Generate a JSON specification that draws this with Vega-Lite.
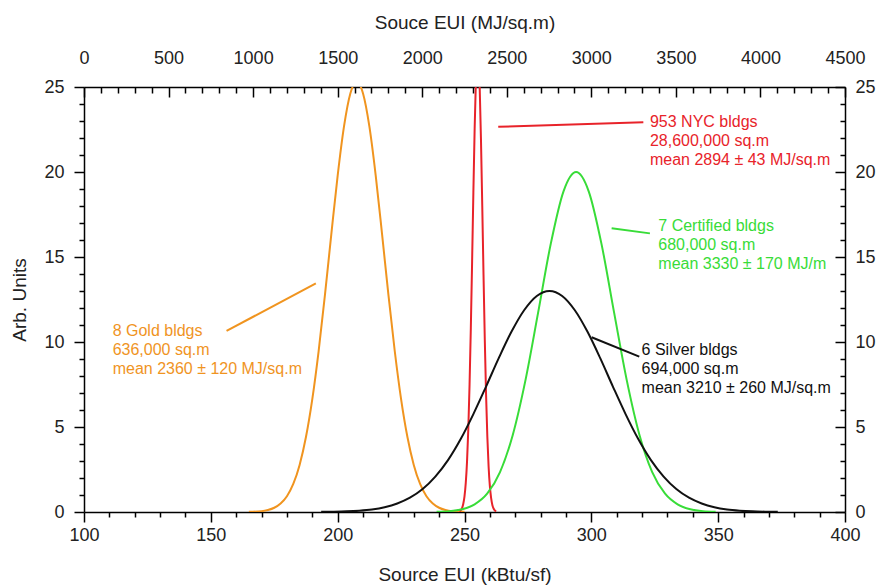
{
  "$schema": "https://vega.github.io/schema/vega-lite/v6.json",
  "width": 761,
  "height": 425,
  "autosize": {"type": "none"},
  "padding": {"left": 84, "top": 87, "right": 35, "bottom": 74},
  "background": "white",
  "config": {
    "view": {"stroke": null},
    "font": "Liberation Sans",
    "axis": {
      "grid": false,
      "domainColor": "#000",
      "domainWidth": 1.5,
      "tickColor": "#000",
      "tickWidth": 1.5,
      "labelColor": "#222",
      "titleColor": "#222",
      "labelFont": "Liberation Sans",
      "titleFont": "Liberation Sans",
      "labelFontSize": 18,
      "titleFontSize": 19,
      "titleFontWeight": "normal",
      "labelFlush": false,
      "labelOverlap": false,
      "labelBound": false
    }
  },
  "datasets": {
    "curves": [
      {"series": "Gold", "x": 165, "y": 0.01},
      {"series": "Gold", "x": 170, "y": 0.05},
      {"series": "Gold", "x": 172.5, "y": 0.12},
      {"series": "Gold", "x": 175, "y": 0.25},
      {"series": "Gold", "x": 177.5, "y": 0.5},
      {"series": "Gold", "x": 180, "y": 0.93},
      {"series": "Gold", "x": 182.5, "y": 1.65},
      {"series": "Gold", "x": 185, "y": 2.77},
      {"series": "Gold", "x": 187.5, "y": 4.41},
      {"series": "Gold", "x": 190, "y": 6.64},
      {"series": "Gold", "x": 192.5, "y": 9.47},
      {"series": "Gold", "x": 195, "y": 12.79},
      {"series": "Gold", "x": 197.5, "y": 16.35},
      {"series": "Gold", "x": 200, "y": 19.79},
      {"series": "Gold", "x": 202.5, "y": 22.68},
      {"series": "Gold", "x": 205, "y": 24.62},
      {"series": "Gold", "x": 207.5, "y": 25.3},
      {"series": "Gold", "x": 210, "y": 24.62},
      {"series": "Gold", "x": 212.5, "y": 22.68},
      {"series": "Gold", "x": 215, "y": 19.79},
      {"series": "Gold", "x": 217.5, "y": 16.35},
      {"series": "Gold", "x": 220, "y": 12.79},
      {"series": "Gold", "x": 222.5, "y": 9.47},
      {"series": "Gold", "x": 225, "y": 6.64},
      {"series": "Gold", "x": 227.5, "y": 4.41},
      {"series": "Gold", "x": 230, "y": 2.77},
      {"series": "Gold", "x": 232.5, "y": 1.65},
      {"series": "Gold", "x": 235, "y": 0.93},
      {"series": "Gold", "x": 237.5, "y": 0.5},
      {"series": "Gold", "x": 240, "y": 0.25},
      {"series": "Gold", "x": 242.5, "y": 0.12},
      {"series": "Gold", "x": 245, "y": 0.05},
      {"series": "Gold", "x": 250, "y": 0.01},
      {"series": "NYC", "x": 248, "y": 0.04},
      {"series": "NYC", "x": 248.5, "y": 0.1},
      {"series": "NYC", "x": 249, "y": 0.22},
      {"series": "NYC", "x": 249.5, "y": 0.47},
      {"series": "NYC", "x": 250, "y": 0.92},
      {"series": "NYC", "x": 250.5, "y": 1.71},
      {"series": "NYC", "x": 251, "y": 2.98},
      {"series": "NYC", "x": 251.5, "y": 4.88},
      {"series": "NYC", "x": 252, "y": 7.51},
      {"series": "NYC", "x": 252.5, "y": 10.85},
      {"series": "NYC", "x": 253, "y": 14.74},
      {"series": "NYC", "x": 253.5, "y": 18.81},
      {"series": "NYC", "x": 254, "y": 22.55},
      {"series": "NYC", "x": 254.5, "y": 25.4},
      {"series": "NYC", "x": 255, "y": 26.87},
      {"series": "NYC", "x": 255.5, "y": 26.7},
      {"series": "NYC", "x": 256, "y": 24.92},
      {"series": "NYC", "x": 256.5, "y": 21.86},
      {"series": "NYC", "x": 257, "y": 18.01},
      {"series": "NYC", "x": 257.5, "y": 13.94},
      {"series": "NYC", "x": 258, "y": 10.13},
      {"series": "NYC", "x": 258.5, "y": 6.92},
      {"series": "NYC", "x": 259, "y": 4.44},
      {"series": "NYC", "x": 259.5, "y": 2.68},
      {"series": "NYC", "x": 260, "y": 1.52},
      {"series": "NYC", "x": 260.5, "y": 0.81},
      {"series": "NYC", "x": 261, "y": 0.4},
      {"series": "NYC", "x": 261.5, "y": 0.19},
      {"series": "NYC", "x": 262, "y": 0.08},
      {"series": "NYC", "x": 262.5, "y": 0.03},
      {"series": "Certified", "x": 239, "y": 0.02},
      {"series": "Certified", "x": 244, "y": 0.05},
      {"series": "Certified", "x": 249, "y": 0.16},
      {"series": "Certified", "x": 254, "y": 0.45},
      {"series": "Certified", "x": 259, "y": 1.09},
      {"series": "Certified", "x": 264, "y": 2.35},
      {"series": "Certified", "x": 269, "y": 4.52},
      {"series": "Certified", "x": 274, "y": 7.73},
      {"series": "Certified", "x": 279, "y": 11.71},
      {"series": "Certified", "x": 284, "y": 15.77},
      {"series": "Certified", "x": 289, "y": 18.85},
      {"series": "Certified", "x": 294, "y": 20},
      {"series": "Certified", "x": 299, "y": 18.85},
      {"series": "Certified", "x": 304, "y": 15.77},
      {"series": "Certified", "x": 309, "y": 11.71},
      {"series": "Certified", "x": 314, "y": 7.73},
      {"series": "Certified", "x": 319, "y": 4.52},
      {"series": "Certified", "x": 324, "y": 2.35},
      {"series": "Certified", "x": 329, "y": 1.09},
      {"series": "Certified", "x": 334, "y": 0.45},
      {"series": "Certified", "x": 339, "y": 0.16},
      {"series": "Certified", "x": 344, "y": 0.05},
      {"series": "Certified", "x": 349, "y": 0.02},
      {"series": "Silver", "x": 193.5, "y": 0.01},
      {"series": "Silver", "x": 198.5, "y": 0.02},
      {"series": "Silver", "x": 203.5, "y": 0.04},
      {"series": "Silver", "x": 208.5, "y": 0.08},
      {"series": "Silver", "x": 213.5, "y": 0.15},
      {"series": "Silver", "x": 218.5, "y": 0.28},
      {"series": "Silver", "x": 223.5, "y": 0.5},
      {"series": "Silver", "x": 228.5, "y": 0.84},
      {"series": "Silver", "x": 233.5, "y": 1.35},
      {"series": "Silver", "x": 238.5, "y": 2.08},
      {"series": "Silver", "x": 243.5, "y": 3.05},
      {"series": "Silver", "x": 248.5, "y": 4.29},
      {"series": "Silver", "x": 253.5, "y": 5.76},
      {"series": "Silver", "x": 258.5, "y": 7.38},
      {"series": "Silver", "x": 263.5, "y": 9.05},
      {"series": "Silver", "x": 268.5, "y": 10.6},
      {"series": "Silver", "x": 273.5, "y": 11.87},
      {"series": "Silver", "x": 278.5, "y": 12.71},
      {"series": "Silver", "x": 283.5, "y": 13},
      {"series": "Silver", "x": 288.5, "y": 12.71},
      {"series": "Silver", "x": 293.5, "y": 11.87},
      {"series": "Silver", "x": 298.5, "y": 10.6},
      {"series": "Silver", "x": 303.5, "y": 9.05},
      {"series": "Silver", "x": 308.5, "y": 7.38},
      {"series": "Silver", "x": 313.5, "y": 5.76},
      {"series": "Silver", "x": 318.5, "y": 4.29},
      {"series": "Silver", "x": 323.5, "y": 3.05},
      {"series": "Silver", "x": 328.5, "y": 2.08},
      {"series": "Silver", "x": 333.5, "y": 1.35},
      {"series": "Silver", "x": 338.5, "y": 0.84},
      {"series": "Silver", "x": 343.5, "y": 0.5},
      {"series": "Silver", "x": 348.5, "y": 0.28},
      {"series": "Silver", "x": 353.5, "y": 0.15},
      {"series": "Silver", "x": 358.5, "y": 0.08},
      {"series": "Silver", "x": 363.5, "y": 0.04},
      {"series": "Silver", "x": 368.5, "y": 0.02},
      {"series": "Silver", "x": 373.5, "y": 0.01}
    ],
    "leaders": [
      {"series": "Gold", "x": 156.2, "y": 10.65, "x2": 191.4, "y2": 13.45},
      {"series": "NYC", "x": 263.3, "y": 22.66, "x2": 320.5, "y2": 22.92},
      {"series": "Certified", "x": 308.0, "y": 16.69, "x2": 323.1, "y2": 16.39},
      {"series": "Silver", "x": 300.1, "y": 10.28, "x2": 318.9, "y2": 9.14}
    ],
    "notes": [
      {"series": "Gold", "x": 111.3, "y": 10.65, "text": "8 Gold bldgs"},
      {"series": "Gold", "x": 111.3, "y": 9.51, "text": "636,000 sq.m"},
      {"series": "Gold", "x": 111.3, "y": 8.39, "text": "mean 2360 ± 120 MJ/sq.m"},
      {"series": "NYC", "x": 323.1, "y": 22.92, "text": "953 NYC bldgs"},
      {"series": "NYC", "x": 323.1, "y": 21.82, "text": "28,600,000 sq.m"},
      {"series": "NYC", "x": 323.1, "y": 20.71, "text": "mean 2894 ± 43 MJ/sq.m"},
      {"series": "Certified", "x": 326.4, "y": 16.84, "text": "7 Certified bldgs"},
      {"series": "Certified", "x": 326.4, "y": 15.71, "text": "680,000 sq.m"},
      {"series": "Certified", "x": 326.4, "y": 14.59, "text": "mean 3330 ± 170 MJ/m"},
      {"series": "Silver", "x": 319.8, "y": 9.53, "text": "6 Silver bldgs"},
      {"series": "Silver", "x": 319.8, "y": 8.39, "text": "694,000 sq.m"},
      {"series": "Silver", "x": 319.8, "y": 7.27, "text": "mean 3210 ± 260 MJ/sq.m"}
    ],
    "topright": [{"mj": 0, "r": 0}]
  },
  "resolve": {"scale": {"x": "independent", "y": "independent"}},
  "layer": [
    {
      "encoding": {
        "x": {
          "field": "x", "type": "quantitative",
          "scale": {"domain": [100, 400], "nice": false, "zero": false},
          "axis": {
            "orient": "bottom",
            "title": "Source EUI (kBtu/sf)",
            "values": [100,110,120,130,140,150,160,170,180,190,200,210,220,230,240,250,260,270,280,290,300,310,320,330,340,350,360,370,380,390,400],
            "labelExpr": "datum.value % 50 === 0 ? datum.label : ''",
            "labelOverlap": false,
            "tickSize": {"condition": {"test": "datum.value % 50 === 0", "value": 10}, "value": 5},
            "labelPadding": 4,
            "titlePadding": 21
          }
        },
        "y": {
          "field": "y", "type": "quantitative",
          "scale": {"domain": [0, 25], "nice": false},
          "axis": {
            "orient": "left",
            "title": "Arb. Units",
            "values": [0,1,2,3,4,5,6,7,8,9,10,11,12,13,14,15,16,17,18,19,20,21,22,23,24,25],
            "labelExpr": "datum.value % 5 === 0 ? datum.label : ''",
            "labelOverlap": false,
            "tickSize": {"condition": {"test": "datum.value % 5 === 0", "value": 10}, "value": 5},
            "labelPadding": 10,
            "titlePadding": 14
          }
        },
        "color": {
          "field": "series", "type": "nominal",
          "scale": {"domain": ["Gold", "NYC", "Certified", "Silver"], "range": ["#F0941F", "#E8232A", "#38DC38", "#111111"]},
          "legend": null
        }
      },
      "layer": [
        {
          "data": {"name": "curves"},
          "mark": {"type": "line", "strokeWidth": 2, "clip": true, "interpolate": "monotone"}
        },
        {
          "data": {"name": "leaders"},
          "mark": {"type": "rule", "strokeWidth": 2},
          "encoding": {
            "x2": {"field": "x2"},
            "y2": {"field": "y2"}
          }
        },
        {
          "data": {"name": "notes"},
          "mark": {"type": "text", "align": "left", "baseline": "middle", "fontSize": 16, "font": "Liberation Sans"},
          "encoding": {
            "text": {"field": "text"}
          }
        }
      ]
    },
    {
      "data": {"name": "topright"},
      "mark": {"type": "point", "opacity": 0},
      "encoding": {
        "x": {
          "field": "mj", "type": "quantitative",
          "scale": {"domain": [0, 4500], "nice": false},
          "axis": {
            "orient": "top",
            "title": "Souce EUI (MJ/sq.m)",
            "values": [0,100,200,300,400,500,600,700,800,900,1000,1100,1200,1300,1400,1500,1600,1700,1800,1900,2000,2100,2200,2300,2400,2500,2600,2700,2800,2900,3000,3100,3200,3300,3400,3500,3600,3700,3800,3900,4000,4100,4200,4300,4400,4500],
            "labelExpr": "datum.value % 500 === 0 ? datum.label : ''",
            "labelOverlap": false,
            "format": "d",
            "tickSize": {"condition": {"test": "datum.value % 500 === 0", "value": -10}, "value": -6},
            "labelPadding": 30,
            "titlePadding": 13
          }
        },
        "y": {
          "field": "r", "type": "quantitative",
          "scale": {"domain": [0, 25], "nice": false},
          "axis": {
            "orient": "right",
            "title": null,
            "values": [0,1,2,3,4,5,6,7,8,9,10,11,12,13,14,15,16,17,18,19,20,21,22,23,24,25],
            "labelExpr": "datum.value % 5 === 0 ? datum.label : ''",
            "labelOverlap": false,
            "tickSize": {"condition": {"test": "datum.value % 5 === 0", "value": -10}, "value": -5},
            "labelPadding": 20
          }
        }
      }
    }
  ]
}
